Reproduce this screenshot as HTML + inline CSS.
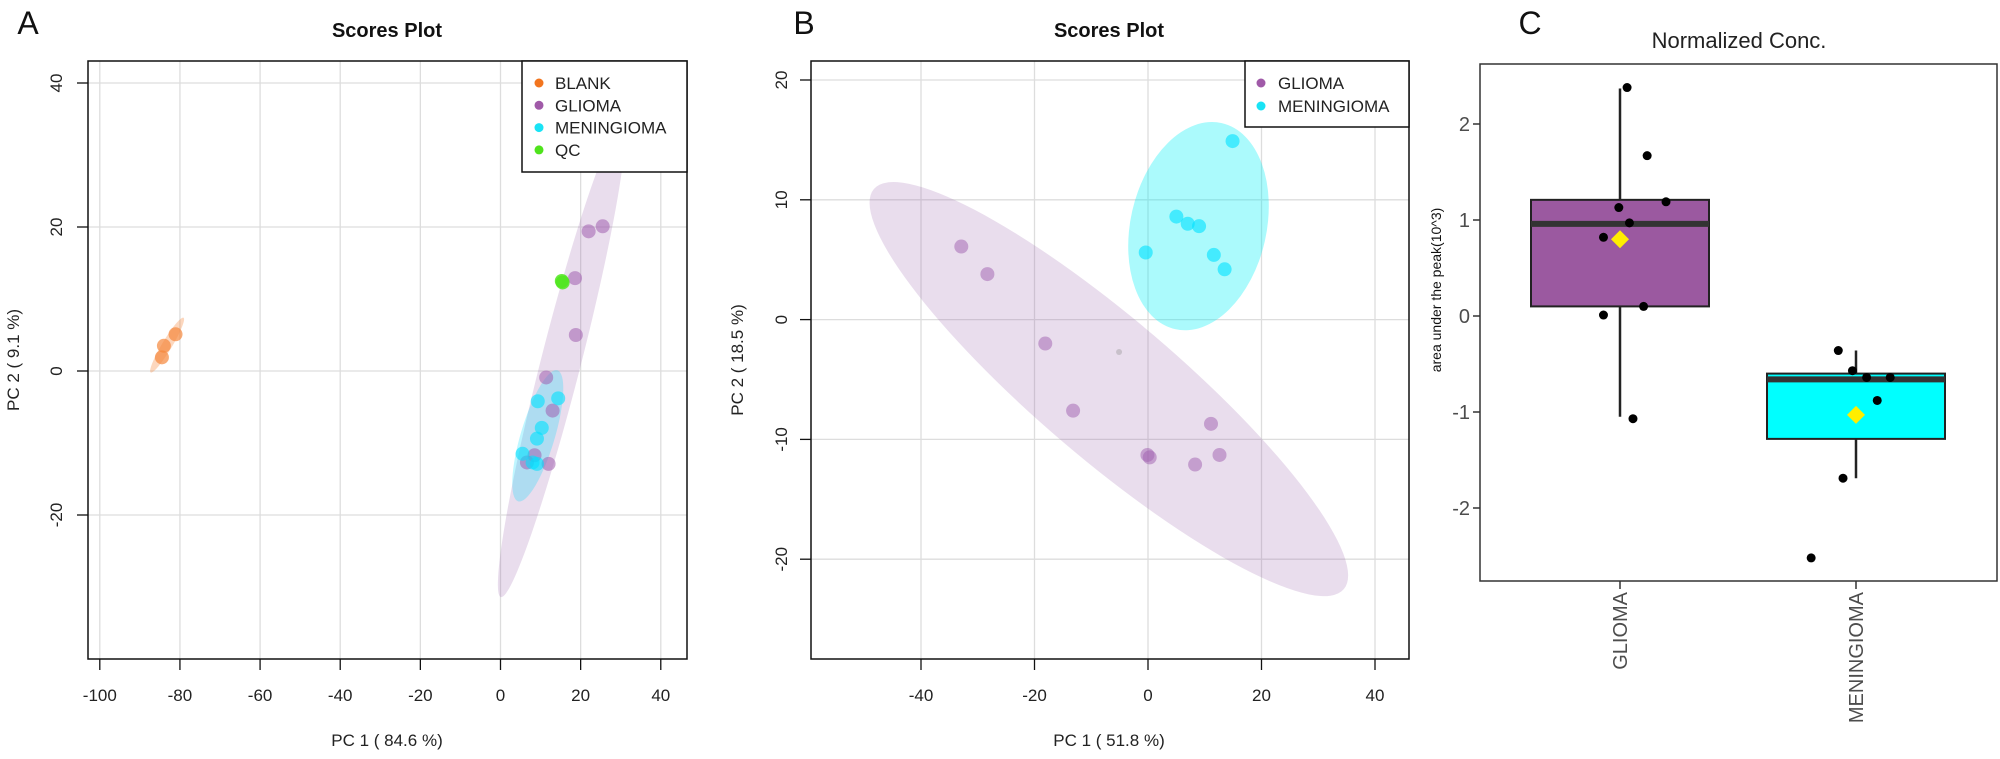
<!DOCTYPE html>
<html><head><meta charset="utf-8"><style>
html,body{margin:0;padding:0;background:#fff;}
svg{display:block;font-family:"Liberation Sans",sans-serif;}
.tk{font-family:"Liberation Sans Narrow","Liberation Sans",sans-serif;font-size:17px;fill:#222;}
</style></head><body>
<svg id="fig" width="2000" height="759" viewBox="0 0 2000 759" xmlns="http://www.w3.org/2000/svg">
<defs>
<clipPath id="clipA"><rect x="88" y="61" width="599" height="598"/></clipPath>
<clipPath id="clipB"><rect x="811" y="61" width="598" height="598"/></clipPath>
</defs>
<g id="gA"></g>
<g id="gB"></g>
<g id="gC"></g>
</svg>
<script>
// ---------- Panel A data ----------
const aXTicks = [-100,-80,-60,-40,-20,0,20,40];
const aYTicks = [40,20,0,-20];
const aBlankX = [-81.1,-84.0,-84.5];
const aBlankY = [5.1,3.5,1.9];
const aGliomaX = [22.0,25.5,18.6,18.8,11.4,13.0,12.0,8.5,6.6];
const aGliomaY = [19.4,20.1,12.9,5.0,-0.9,-5.5,-12.9,-11.7,-12.7];
const aMeningX = [9.3,14.4,10.3,9.1,5.5,8.0,9.1];
const aMeningY = [-4.2,-3.8,-7.9,-9.4,-11.5,-12.7,-12.9];
const aQcX = [15.5,15.3];
const aQcY = [12.3,12.5];
// ellipse: center x, center y, tip x, tip y (data units)
const aEllGlioma = [15.2,1.5,0.1,-31.4];
const aEllMening = [9.3,-9.0,4.4,-18.1];
const aEllBlank = [-83.2,3.6,-87.3,-0.2];
const aLegend = ["BLANK","GLIOMA","MENINGIOMA","QC"];

// ---------- Panel B data ----------
const bXTicks = [-40,-20,0,20,40];
const bYTicks = [20,10,0,-10,-20];
const bGliomaX = [-32.9,-28.3,-18.1,-13.2,-0.1,0.3,11.1,8.3,12.6];
const bGliomaY = [6.1,3.8,-2.0,-7.6,-11.3,-11.5,-8.7,-12.1,-11.3];
const bMeningX = [14.9,5.0,7.0,9.0,-0.4,11.6,13.5];
const bMeningY = [14.9,8.6,8.0,7.8,5.6,5.4,4.2];
const bEllGlioma = [-6.9,-5.8,-48.3,10.9];
const bEllMening = [8.9,7.8,13.0,16.4];
const bLegend = ["GLIOMA","MENINGIOMA"];

// ---------- Panel C data ----------
const cCategories = ["GLIOMA","MENINGIOMA"];
const cYTicks = [2,1,0,-1,-2];
const cQ1 = [0.10,-1.28];
const cQ3 = [1.21,-0.60];
const cMedian = [0.96,-0.66];
const cWhiskLo = [-1.05,-1.69];
const cWhiskHi = [2.37,-0.36];
const cMean = [0.80,-1.03];
const cGliomaVals = [2.38,1.67,1.19,1.13,0.97,0.82,0.10,0.01,-1.07];
const cGliomaJit = [0.06,0.23,0.39,-0.01,0.08,-0.14,0.20,-0.14,0.11];
const cMeningVals = [-0.36,-0.57,-0.64,-0.64,-0.88,-1.69,-2.52];
const cMeningJit = [-0.15,-0.03,0.09,0.29,0.18,-0.11,-0.38];

const NS="http://www.w3.org/2000/svg";
function mk(parent,tag,attrs,text){const e=document.createElementNS(NS,tag);for(const k in attrs)e.setAttribute(k,attrs[k]);if(text!==undefined)e.textContent=text;parent.appendChild(e);return e;}

// ===== Panel A =====
(function(){
const g=document.getElementById('gA');
const L=88,T=61,R=687,B=659;
const sx=v=>500.5+v*4.007, sy=v=>371-v*7.2;
let t=mk(g,'text',{x:28,y:34,'font-size':32,fill:'#111','text-anchor':'middle'},'A');

t=mk(g,'text',{x:387,y:37,'font-size':20,'font-weight':'bold',fill:'#111','text-anchor':'middle'},'Scores Plot');

aXTicks.forEach(v=>{const l=mk(g,'line',{x1:sx(v),x2:sx(v),y1:T,y2:B,stroke:'#ddd','stroke-width':1.3});
});
aYTicks.forEach(v=>{const l=mk(g,'line',{x1:L,x2:R,y1:sy(v),y2:sy(v),stroke:'#ddd','stroke-width':1.3});
});
const cg=mk(g,'g',{'clip-path':'url(#clipA)'});
function ell(spec,w,fill,name){const cx=sx(spec[0]),cy=sy(spec[1]),tx=sx(spec[2]),ty=sy(spec[3]);
const rx=Math.hypot(tx-cx,ty-cy),ang=Math.atan2(ty-cy,tx-cx)*180/Math.PI;
const e=mk(cg,'ellipse',{cx:cx,cy:cy,rx:rx,ry:w,fill:fill,transform:`rotate(${ang} ${cx} ${cy})`});
}
ell(aEllGlioma,20,'rgba(155,100,175,0.22)','a-glioma-ellipse');
ell(aEllMening,17,'rgba(0,220,255,0.25)','a-meningioma-ellipse');
ell(aEllBlank,5,'rgba(245,140,70,0.35)','a-blank-ellipse');
function pts(xs,ys,col,name){xs.forEach((x,i)=>{const c=mk(cg,'circle',{cx:sx(x),cy:sy(ys[i]),r:7,fill:col});
});}
pts(aBlankX,aBlankY,'rgba(245,135,60,0.7)','a-blank-point');
pts(aGliomaX,aGliomaY,'rgba(160,95,175,0.55)','a-glioma-point');
pts(aMeningX,aMeningY,'rgba(0,225,255,0.6)','a-meningioma-point');
pts(aQcX,aQcY,'rgba(80,230,30,0.85)','a-qc-point');
const ax=mk(g,'rect',{x:L,y:T,width:R-L,height:B-T,fill:'none',stroke:'#111','stroke-width':1.5});

aXTicks.forEach(v=>{mk(g,'line',{x1:sx(v),x2:sx(v),y1:B,y2:B+11,stroke:'#111','stroke-width':1.3});
const tl=mk(g,'text',{x:sx(v),y:701,'text-anchor':'middle',class:'tk'},String(v));
});
aYTicks.forEach(v=>{mk(g,'line',{x1:L-11,x2:L,y1:sy(v),y2:sy(v),stroke:'#111','stroke-width':1.3});
const tl=mk(g,'text',{x:0,y:0,'text-anchor':'middle',class:'tk',transform:`translate(62 ${sy(v)}) rotate(-90)`},String(v));
});
t=mk(g,'text',{x:387,y:746,'text-anchor':'middle',class:'tk'},'PC 1 ( 84.6 %)');

t=mk(g,'text',{x:0,y:0,'text-anchor':'middle',class:'tk',transform:'translate(19 360) rotate(-90)'},'PC 2 ( 9.1 %)');

const lg=mk(g,'g',{});
mk(lg,'rect',{x:522,y:61,width:165,height:111,fill:'#fff',stroke:'#111','stroke-width':1.5});
const lc=['#f2751e','#a05aa8','#19e3f5','#4fe31c'];
aLegend.forEach((s,i)=>{const y=83+i*22.3;
const d=mk(lg,'circle',{cx:539,cy:y,r:4.5,fill:lc[i]});
const tx=mk(lg,'text',{x:555,y:y+6,'font-size':17,fill:'#222'},s);});
})();

// ===== Panel B =====
(function(){
const g=document.getElementById('gB');
const L=811,T=61,R=1409,B=659;
const sx=v=>1148+v*5.675, sy=v=>319.6-v*11.98;
let t=mk(g,'text',{x:804,y:34,'font-size':32,fill:'#111','text-anchor':'middle'},'B');

t=mk(g,'text',{x:1109,y:37,'font-size':20,'font-weight':'bold',fill:'#111','text-anchor':'middle'},'Scores Plot');

bXTicks.forEach(v=>{const l=mk(g,'line',{x1:sx(v),x2:sx(v),y1:T,y2:B,stroke:'#ddd','stroke-width':1.3});
});
bYTicks.forEach(v=>{const l=mk(g,'line',{x1:L,x2:R,y1:sy(v),y2:sy(v),stroke:'#ddd','stroke-width':1.3});
});
const cg=mk(g,'g',{'clip-path':'url(#clipB)'});
function ell(spec,w,fill,name){const cx=sx(spec[0]),cy=sy(spec[1]),tx=sx(spec[2]),ty=sy(spec[3]);
const rx=Math.hypot(tx-cx,ty-cy),ang=Math.atan2(ty-cy,tx-cx)*180/Math.PI;
const e=mk(cg,'ellipse',{cx:cx,cy:cy,rx:rx,ry:w,fill:fill,transform:`rotate(${ang} ${cx} ${cy})`});
}
ell(bEllGlioma,70,'rgba(155,100,175,0.22)','b-glioma-ellipse');
ell(bEllMening,68,'rgba(0,240,245,0.33)','b-meningioma-ellipse');
const gp=mk(cg,'circle',{cx:sx(-5.1),cy:sy(-2.7),r:3,fill:'rgba(150,150,150,0.4)'});

function pts(xs,ys,col,name){xs.forEach((x,i)=>{const c=mk(cg,'circle',{cx:sx(x),cy:sy(ys[i]),r:7,fill:col});
});}
pts(bGliomaX,bGliomaY,'rgba(160,95,175,0.5)','b-glioma-point');
pts(bMeningX,bMeningY,'rgba(0,225,255,0.6)','b-meningioma-point');
const ax=mk(g,'rect',{x:L,y:T,width:R-L,height:B-T,fill:'none',stroke:'#111','stroke-width':1.5});

bXTicks.forEach(v=>{mk(g,'line',{x1:sx(v),x2:sx(v),y1:B,y2:B+11,stroke:'#111','stroke-width':1.3});
const tl=mk(g,'text',{x:sx(v),y:701,'text-anchor':'middle',class:'tk'},String(v));
});
bYTicks.forEach(v=>{mk(g,'line',{x1:L-11,x2:L,y1:sy(v),y2:sy(v),stroke:'#111','stroke-width':1.3});
const tl=mk(g,'text',{x:0,y:0,'text-anchor':'middle',class:'tk',transform:`translate(787 ${sy(v)}) rotate(-90)`},String(v));
});
t=mk(g,'text',{x:1109,y:746,'text-anchor':'middle',class:'tk'},'PC 1 ( 51.8 %)');

t=mk(g,'text',{x:0,y:0,'text-anchor':'middle',class:'tk',transform:'translate(743 360) rotate(-90)'},'PC 2 ( 18.5 %)');

const lg=mk(g,'g',{});
mk(lg,'rect',{x:1245,y:61,width:164,height:66,fill:'#fff',stroke:'#111','stroke-width':1.5});
const lc=['#a05aa8','#19e3f5'];
bLegend.forEach((s,i)=>{const y=83+i*23;
const d=mk(lg,'circle',{cx:1261,cy:y,r:4.5,fill:lc[i]});
const tx=mk(lg,'text',{x:1278,y:y+6,'font-size':17,fill:'#222'},s);});
})();

// ===== Panel C =====
(function(){
const g=document.getElementById('gC');
const L=1480,T=64,R=1997,B=581;
const sy=v=>316-v*96;
const catX=i=>1620+i*236;
const halfW=89, jitScale=236/2;
let t=mk(g,'text',{x:1530,y:34,'font-size':32,fill:'#111','text-anchor':'middle'},'C');

t=mk(g,'text',{x:1739,y:48,'font-size':22,fill:'#222','text-anchor':'middle'},'Normalized Conc.');

const fills=['#9b59a0','#00ffff'];
cCategories.forEach((c,i)=>{const x=catX(i);
const w=mk(g,'line',{x1:x,x2:x,y1:sy(cWhiskHi[i]),y2:sy(cWhiskLo[i]),stroke:'#222','stroke-width':2.5});

const b=mk(g,'rect',{x:x-halfW,y:sy(cQ3[i]),width:2*halfW,height:sy(cQ1[i])-sy(cQ3[i]),fill:fills[i],stroke:'#222','stroke-width':2});

const m=mk(g,'line',{x1:x-halfW,x2:x+halfW,y1:sy(cMedian[i]),y2:sy(cMedian[i]),stroke:'#333','stroke-width':6});

});
function dots(vals,jit,i,name){vals.forEach((v,k)=>{const d=mk(g,'circle',{cx:catX(i)+jit[k]*jitScale,cy:sy(v),r:4.5,fill:'#000'});
});}
dots(cGliomaVals,cGliomaJit,0,'c-glioma-point');
dots(cMeningVals,cMeningJit,1,'c-meningioma-point');
cCategories.forEach((c,i)=>{const x=catX(i),y=sy(cMean[i]);
const d=mk(g,'polygon',{points:`${x},${y-9} ${x+9},${y} ${x},${y+9} ${x-9},${y}`,fill:'#ffee00'});

mk(g,'line',{x1:x,x2:x,y1:B,y2:B+8,stroke:'#333','stroke-width':1.5});
const tl=mk(g,'text',{x:0,y:0,'font-size':20,fill:'#4d4d4d','text-anchor':'end',transform:`translate(${x+7} 592) rotate(-90)`},c);
});
const fr=mk(g,'rect',{x:L,y:T,width:R-L,height:B-T,fill:'none',stroke:'#333','stroke-width':1.5});

cYTicks.forEach(v=>{mk(g,'line',{x1:L-7,x2:L,y1:sy(v),y2:sy(v),stroke:'#333','stroke-width':1.5});
const tl=mk(g,'text',{x:1470,y:sy(v)+7,'font-size':20,fill:'#4d4d4d','text-anchor':'end'},String(v));
});
t=mk(g,'text',{x:0,y:0,'font-size':14,fill:'#111','text-anchor':'middle',transform:'translate(1441 290) rotate(-90)'},'area under the peak(10^3)');

})();
</script>
</body></html>
